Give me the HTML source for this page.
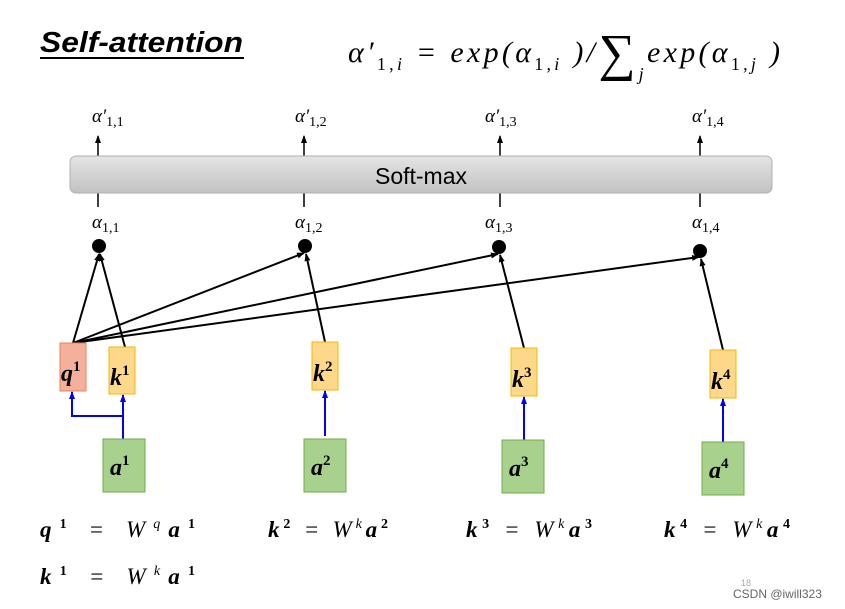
<!DOCTYPE html>
<html><head><meta charset="utf-8"><style>
body{margin:0;background:#fff;}
svg{display:block;font-family:"Liberation Serif",serif;}
</style></head><body>
<svg width="845" height="609" viewBox="0 0 845 609" xmlns="http://www.w3.org/2000/svg">
<defs>
<marker id="ah" markerWidth="8" markerHeight="8" refX="7" refY="4" orient="auto" markerUnits="userSpaceOnUse"><path d="M0,1 L8,4 L0,7 z" fill="#000"/></marker>
<marker id="bh" markerWidth="8" markerHeight="8" refX="7" refY="4" orient="auto" markerUnits="userSpaceOnUse"><path d="M0,1 L8,4 L0,7 z" fill="#00f"/></marker>
<linearGradient id="g" x1="0" y1="0" x2="0" y2="1"><stop offset="0" stop-color="#e4e4e4"/><stop offset="1" stop-color="#c2c2c2"/></linearGradient>
</defs>
<text x="40" y="52" font-family="Liberation Sans,sans-serif" font-size="29" font-weight="bold" font-style="italic" fill="#000" textLength="203" lengthAdjust="spacingAndGlyphs">Self-attention</text>
<line x1="40" y1="58" x2="244" y2="58" stroke="#000" stroke-width="2"/>
<text x="348" y="62" font-size="30" font-style="italic" textLength="432" lengthAdjust="spacing">α′<tspan font-size="18" dy="8" font-style="normal">1,<tspan font-style="italic">i</tspan></tspan><tspan dy="-8"> = exp(α</tspan><tspan font-size="18" dy="8" font-style="normal">1,<tspan font-style="italic">i</tspan></tspan><tspan dy="-8"> )/</tspan><tspan font-size="52" font-style="normal" dy="8">∑</tspan><tspan font-size="18" dy="10">j</tspan><tspan dy="-18">exp(α</tspan><tspan font-size="18" dy="8" font-style="normal">1,<tspan font-style="italic">j</tspan></tspan><tspan dy="-8"> )</tspan></text>
<g font-size="19" font-style="italic">
<text x="92" y="122">α′<tspan font-size="14" font-style="normal" dy="4">1,1</tspan></text>
<text x="295" y="122">α′<tspan font-size="14" font-style="normal" dy="4">1,2</tspan></text>
<text x="485" y="122">α′<tspan font-size="14" font-style="normal" dy="4">1,3</tspan></text>
<text x="692" y="122">α′<tspan font-size="14" font-style="normal" dy="4">1,4</tspan></text>
<text x="92" y="228">α<tspan font-size="14" font-style="normal" dy="4">1,1</tspan></text>
<text x="295" y="228">α<tspan font-size="14" font-style="normal" dy="4">1,2</tspan></text>
<text x="485" y="228">α<tspan font-size="14" font-style="normal" dy="4">1,3</tspan></text>
<text x="692" y="228">α<tspan font-size="14" font-style="normal" dy="4">1,4</tspan></text>
</g>
<g stroke="#000" stroke-width="1.5">
<line x1="98" y1="156" x2="98" y2="136" marker-end="url(#ah)"/>
<line x1="304" y1="156" x2="304" y2="136" marker-end="url(#ah)"/>
<line x1="500" y1="156" x2="500" y2="136" marker-end="url(#ah)"/>
<line x1="700" y1="156" x2="700" y2="136" marker-end="url(#ah)"/>
<line x1="98" y1="193" x2="98" y2="207"/>
<line x1="304" y1="193" x2="304" y2="207"/>
<line x1="500" y1="193" x2="500" y2="207"/>
<line x1="700" y1="193" x2="700" y2="207"/>
</g>
<rect x="70" y="156" width="702" height="37" rx="6" fill="url(#g)" stroke="#b0b0b0"/>
<text x="421" y="184" text-anchor="middle" font-family="Liberation Sans,sans-serif" font-size="23">Soft-max</text>
<g fill="#000"><circle cx="99" cy="246" r="7"/><circle cx="305" cy="246" r="7"/><circle cx="499" cy="247" r="7"/><circle cx="700" cy="251" r="7"/></g>
<g stroke="#000" stroke-width="2" fill="none">
<line x1="73" y1="343" x2="99" y2="254" marker-end="url(#ah)"/>
<line x1="125" y1="347" x2="100" y2="254" marker-end="url(#ah)"/>
<line x1="73" y1="343" x2="304" y2="253" marker-end="url(#ah)"/>
<line x1="73" y1="343" x2="498" y2="254" marker-end="url(#ah)"/>
<line x1="73" y1="343" x2="699" y2="257" marker-end="url(#ah)"/>
<line x1="325" y1="342" x2="306" y2="254" marker-end="url(#ah)"/>
<line x1="524" y1="348" x2="500" y2="255" marker-end="url(#ah)"/>
<line x1="723" y1="350" x2="701" y2="259" marker-end="url(#ah)"/>
</g>
<g stroke="#00f" stroke-width="2" fill="none">
<line x1="123" y1="439" x2="123" y2="395" marker-end="url(#bh)"/>
<polyline points="123,416 72,416 72,392" marker-end="url(#bh)"/>
<line x1="325" y1="436" x2="325" y2="391" marker-end="url(#bh)"/>
<line x1="524" y1="440" x2="524" y2="397" marker-end="url(#bh)"/>
<line x1="723" y1="442" x2="723" y2="399" marker-end="url(#bh)"/>
</g>
<rect x="60" y="343" width="26" height="48" fill="#f4b09a" stroke="#e8805a"/>
<g fill="#fdd88a" stroke="#f5b800">
<rect x="109" y="347" width="26" height="47"/>
<rect x="312" y="342" width="26" height="48"/>
<rect x="511" y="348" width="26" height="48"/>
<rect x="710" y="350" width="26" height="48"/>
</g>
<g fill="#a9d18e" stroke="#70ad47">
<rect x="103" y="439" width="42" height="53"/>
<rect x="304" y="439" width="42" height="53"/>
<rect x="502" y="440" width="42" height="53"/>
<rect x="702" y="442" width="42" height="53"/>
</g>
<g font-size="24" font-weight="bold" font-style="italic">
<text x="61" y="381">q<tspan font-size="15" font-style="normal" dy="-10">1</tspan></text>
<text x="110" y="385">k<tspan font-size="15" font-style="normal" dy="-10">1</tspan></text>
<text x="313" y="381">k<tspan font-size="15" font-style="normal" dy="-10">2</tspan></text>
<text x="512" y="387">k<tspan font-size="15" font-style="normal" dy="-10">3</tspan></text>
<text x="711" y="389">k<tspan font-size="15" font-style="normal" dy="-10">4</tspan></text>
<text x="110" y="475">a<tspan font-size="15" font-style="normal" dy="-10">1</tspan></text>
<text x="311" y="475">a<tspan font-size="15" font-style="normal" dy="-10">2</tspan></text>
<text x="509" y="476">a<tspan font-size="15" font-style="normal" dy="-10">3</tspan></text>
<text x="709" y="478">a<tspan font-size="15" font-style="normal" dy="-10">4</tspan></text>
</g>
<g font-size="23" font-style="italic">
<text x="40" y="537" textLength="155" lengthAdjust="spacing"><tspan font-weight="bold">q</tspan><tspan font-size="14" dy="-9" font-weight="bold" font-style="normal">1</tspan><tspan dy="9"> = W</tspan><tspan font-size="14" dy="-9">q</tspan><tspan dy="9" font-weight="bold">a</tspan><tspan font-size="14" dy="-9" font-weight="bold" font-style="normal">1</tspan></text>
<text x="40" y="584" textLength="155" lengthAdjust="spacing"><tspan font-weight="bold">k</tspan><tspan font-size="14" dy="-9" font-weight="bold" font-style="normal">1</tspan><tspan dy="9"> = W</tspan><tspan font-size="14" dy="-9">k</tspan><tspan dy="9" font-weight="bold">a</tspan><tspan font-size="14" dy="-9" font-weight="bold" font-style="normal">1</tspan></text>
<text x="268" y="537" textLength="120" lengthAdjust="spacing"><tspan font-weight="bold">k</tspan><tspan font-size="14" dy="-9" font-weight="bold" font-style="normal">2</tspan><tspan dy="9"> = W</tspan><tspan font-size="14" dy="-9">k</tspan><tspan dy="9" font-weight="bold">a</tspan><tspan font-size="14" dy="-9" font-weight="bold" font-style="normal">2</tspan></text>
<text x="466" y="537" textLength="126" lengthAdjust="spacing"><tspan font-weight="bold">k</tspan><tspan font-size="14" dy="-9" font-weight="bold" font-style="normal">3</tspan><tspan dy="9"> = W</tspan><tspan font-size="14" dy="-9">k</tspan><tspan dy="9" font-weight="bold">a</tspan><tspan font-size="14" dy="-9" font-weight="bold" font-style="normal">3</tspan></text>
<text x="664" y="537" textLength="126" lengthAdjust="spacing"><tspan font-weight="bold">k</tspan><tspan font-size="14" dy="-9" font-weight="bold" font-style="normal">4</tspan><tspan dy="9"> = W</tspan><tspan font-size="14" dy="-9">k</tspan><tspan dy="9" font-weight="bold">a</tspan><tspan font-size="14" dy="-9" font-weight="bold" font-style="normal">4</tspan></text>
</g>
<text x="741" y="586" font-family="Liberation Sans,sans-serif" font-size="9" fill="#aaa">18</text>
<text x="733" y="598" font-family="Liberation Sans,sans-serif" font-size="12" fill="#666">CSDN @iwill323</text>
</svg>
</body></html>
